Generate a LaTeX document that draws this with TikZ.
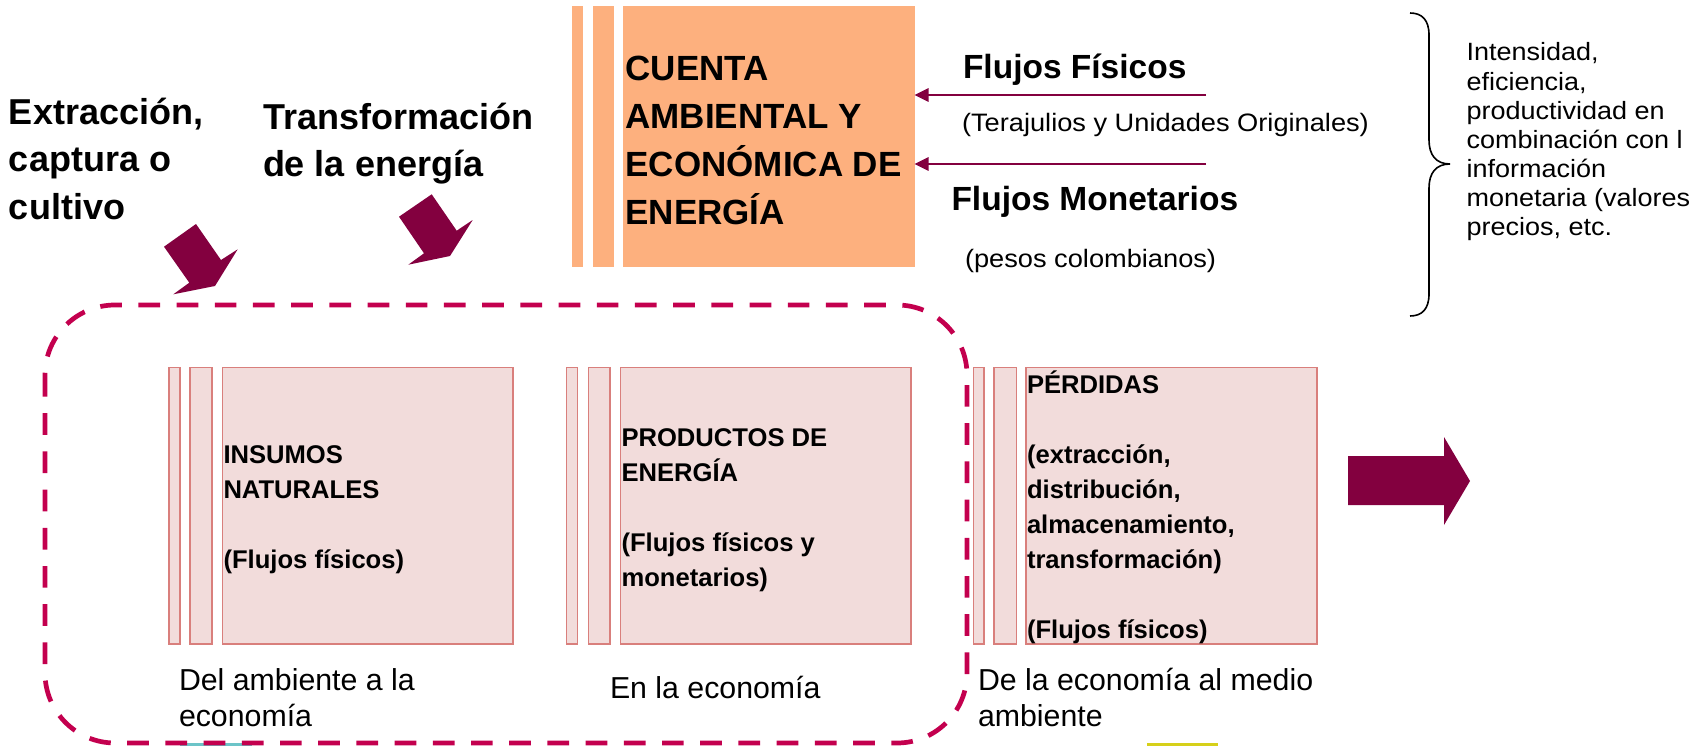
\documentclass[tikz,border=0pt]{standalone}
\usepackage{fontspec}
\setmainfont{Liberation Sans}
\newfontfamily\wfont[FakeStretch=1.08]{Liberation Sans}
\usetikzlibrary{arrows.meta}
\definecolor{orng}{HTML}{FDB07E}
\definecolor{pinkf}{HTML}{F2DCDB}
\definecolor{pinkd}{HTML}{D97F7C}
\definecolor{maroon}{HTML}{83003F}
\definecolor{crim}{HTML}{C3004E}
\definecolor{teal}{HTML}{6CC4C8}
\definecolor{yel}{HTML}{D6D01A}
\begin{document}
\begin{tikzpicture}[x=1pt,y=-1pt,
  txt/.style={inner sep=0pt, outer sep=0pt, anchor=base west, align=left},
  hbig/.style={txt, font=\fontsize{36}{47.5}\selectfont\bfseries},
  hcta/.style={txt, font=\fontsize{35}{48.3}\selectfont\bfseries},
  hflu/.style={txt, font=\fontsize{33.5}{40}\selectfont\bfseries},
  paren/.style={txt, font=\wfont\fontsize{25.2}{30}\selectfont},
  side/.style={txt, font=\wfont\fontsize{25}{29.1}\selectfont},
  inbox/.style={txt, font=\fontsize{25.6}{35}\selectfont\bfseries},
  under/.style={txt, font=\fontsize{30.3}{36}\selectfont},
  orngbar/.style={fill=orng},
  pinkbar/.style={fill=pinkf, draw=pinkd, line width=1.3pt},
  mainorng/.style={rectangle, fill=orng, inner sep=0pt, outer sep=0pt, anchor=north west},
  mainpink/.style={rectangle, fill=pinkf, draw=pinkd, line width=1.3pt, inner sep=0pt, outer sep=0pt, anchor=north west},
  flow/.style={draw=maroon, line width=2.7pt, -{Triangle[length=14pt,width=13pt]}},
  blk/.style={fill=maroon},
  dashbox/.style={draw=crim, line width=4.7pt, dash pattern=on 21.7pt off 16.5pt, rounded corners=70pt},
]
\useasboundingbox (0,0) rectangle (1691,746);
\clip (0,0) rectangle (1691,746);

% top orange block
\fill[orngbar] (571.5,6.5) rectangle (582.5,266.5);
\fill[orngbar] (592.5,6.5) rectangle (613.5,266.5);
\node[mainorng, minimum width=291.5pt, minimum height=260pt] (cuenta) at (623,6.5) {};
\node[hcta] (cuentatxt) at (625.5,225) {CUENTA\\AMBIENTAL Y\\ECONÓMICA DE\\ENERGÍA};

% flows into account
\coordinate (f1) at (1206,95);
\coordinate (f2) at (1206,164);
\draw[flow] (f1) -- (f1 -| cuenta.east);
\draw[flow] (f2) -- (f2 -| cuenta.east);
\node[hflu] (fisicos) at (963,79) {Flujos Físicos};
\node[paren] (tera) at (962,131.7) {(Terajulios y Unidades Originales)};
\node[hflu] (monet) at (951.5,211) {Flujos Monetarios};
\node[paren] (pesos) at (965,267) {(pesos colombianos)};

% brace and side text
\draw[line width=1.6pt] (1410,13) .. controls (1422,13) and (1429,20) .. (1429,35) -- (1429,140)
  .. controls (1429,155) and (1436,164) .. (1450,164)
  .. controls (1436,164) and (1429,173) .. (1429,188) -- (1429,294)
  .. controls (1429,309) and (1422,316) .. (1410,316);
\node[side] (intens) at (1466.5,235.6) {Intensidad,\\eficiencia,\\productividad en\\combinación con l\\información\\monetaria (valores\\precios, etc.};

% left headings
\node[hbig] (extr) at (9,219.5) {Extracción,\\captura o\\cultivo};
\node[hbig] (transf) at (263,177) {Transformación\\de la energía};

% block arrows
\fill[blk] (164,246.7) -- (196,224) -- (221,260) -- (237.7,249.3) -- (215,286) -- (173.3,294.3) -- (189.3,282.7) -- cycle;
\fill[blk] (399,216.7) -- (431.7,194.3) -- (456.7,230.7) -- (472.7,220) -- (450,256) -- (408.3,264.7) -- (424,253.3) -- cycle;
\fill[blk] (1348,456) -- (1444,456) -- (1444,437) -- (1470,481) -- (1444,525) -- (1444,505) -- (1348,505) -- cycle;

% pink boxes
\filldraw[pinkbar] (169,367.5) rectangle (180,644);
\filldraw[pinkbar] (190,367.5) rectangle (212,644);
\node[mainpink, minimum width=290.5pt, minimum height=276.5pt] (insumos) at (222.5,367.5) {};
\node[inbox] (insumostxt) at (223.5,568.5) {INSUMOS\\NATURALES\\[35pt](Flujos físicos)};

\filldraw[pinkbar] (566.5,367.5) rectangle (577.5,644);
\filldraw[pinkbar] (588.5,367.5) rectangle (610,644);
\node[mainpink, minimum width=290.5pt, minimum height=276.5pt] (productos) at (620.5,367.5) {};
\node[inbox] (productostxt) at (621.5,586.7) {PRODUCTOS DE\\ENERGÍA\\[35pt](Flujos físicos y\\monetarios)};

\filldraw[pinkbar] (973.5,367.5) rectangle (984,644);
\filldraw[pinkbar] (994,367.5) rectangle (1016.5,644);
\node[mainpink, minimum width=291pt, minimum height=276.5pt] (perdidas) at (1026,367.5) {};
\node[inbox] (perdidastxt) at (1027,638.5) {PÉRDIDAS\\[35pt](extracción,\\distribución,\\almacenamiento,\\transformación)\\[35pt](Flujos físicos)};

% labels under boxes
\node[under] (lab1) at (179,726.5) {Del ambiente a la\\economía};
\node[under] (lab2) at (610,698) {En la economía};
\node[under] (lab3) at (978,726.5) {De la economía al medio\\ambiente};

% slivers at the bottom edge
\fill[teal] (180,742.5) rectangle (252,746);
\fill[yel] (1146.5,742.5) rectangle (1218,746);

% dashed group
\draw[dashbox] (45,305) rectangle (967,743);
\end{tikzpicture}
\end{document}
